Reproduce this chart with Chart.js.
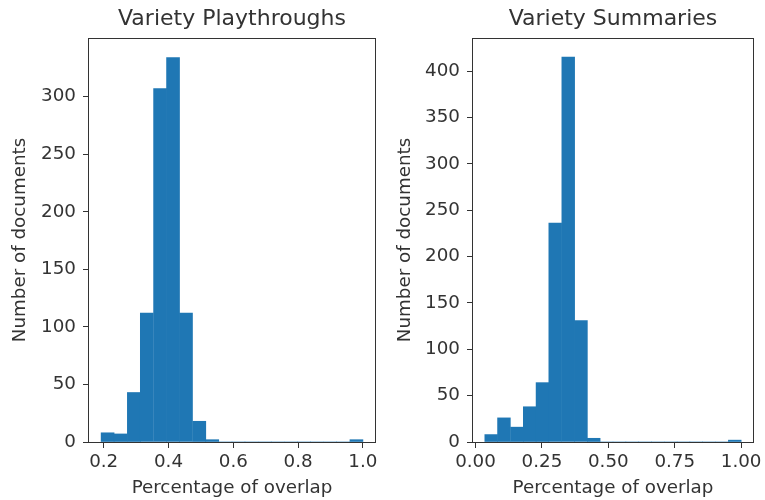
<!DOCTYPE html>
<html>
<head>
<meta charset="utf-8">
<script src="https://cdn.jsdelivr.net/npm/chart.js@4.4.1/dist/chart.umd.min.js"></script>
<style>
  html, body { margin: 0; padding: 0; background: #fff; }
  #wrap { position: relative; width: 765px; height: 500px; }
  canvas { position: absolute; top: 0; }
</style>
</head>
<body>
<div id="wrap">
  <canvas id="left" width="385" height="500" style="left:0"></canvas>
  <canvas id="right" width="380" height="500" style="left:385px"></canvas>
</div>
<script>
// ---- data ----
// Variety Playthroughs: 20 bins between 0.192 and 1.0
const playBinCenters = [0.212, 0.252, 0.293, 0.333, 0.374, 0.414, 0.454, 0.495, 0.535, 0.576,
                        0.616, 0.656, 0.697, 0.737, 0.778, 0.818, 0.858, 0.899, 0.939, 0.980];
const playCounts     = [8, 7, 43, 112, 307, 334, 112, 18, 2, 0,
                        0, 0, 0, 0, 0, 0, 0, 0, 0, 2];
const playXTicks  = [0.2, 0.4, 0.6, 0.8, 1.0];
const playXLabels = ['0.2', '0.4', '0.6', '0.8', '1.0'];
const playYTicks  = [0, 50, 100, 150, 200, 250, 300];

// Variety Summaries: 20 bins between 0.035 and 1.0
const sumBinCenters = [0.059, 0.107, 0.156, 0.204, 0.252, 0.300, 0.349, 0.397, 0.445, 0.493,
                       0.542, 0.590, 0.638, 0.686, 0.735, 0.783, 0.831, 0.879, 0.928, 0.976];
const sumCounts     = [8, 26, 16, 38, 64, 236, 415, 131, 4, 0,
                       0, 0, 0, 0, 0, 0, 0, 0, 0, 2];
const sumXTicks  = [0, 0.25, 0.5, 0.75, 1.0];
const sumXLabels = ['0.00', '0.25', '0.50', '0.75', '1.00'];
const sumYTicks  = [0, 50, 100, 150, 200, 250, 300, 350, 400];

const INK = '#333333';
const BAR = '#1f77b4';
Chart.defaults.font.family = '"DejaVu Sans", sans-serif';
Chart.defaults.color = INK;

// full box around the plot area (matplotlib spines)
const frame = {
    id: 'frame',
    afterDraw(chart) {
        const { ctx, chartArea: a } = chart;
        ctx.save();
        ctx.strokeStyle = INK;
        ctx.lineWidth = 1;
        ctx.strokeRect(Math.round(a.left) + 0.5, Math.round(a.top) + 0.5,
                       Math.round(a.right - a.left) - 1, Math.round(a.bottom - a.top));
        ctx.restore();
    }
};

function histogram(id, o) {
    const fixTicks = list => scale => { scale.ticks = list.map(v => ({ value: v })); };
    return new Chart(document.getElementById(id), {
        type: 'bar',
        data: {
            datasets: [{
                data: o.centers.map((x, i) => ({ x, y: o.counts[i] })),
                backgroundColor: BAR,
                borderWidth: 0,
                barPercentage: 1,
                categoryPercentage: 1,
                grouped: false
            }]
        },
        options: {
            responsive: false,
            animation: false,
            devicePixelRatio: 1,
            layout: { padding: { top: 0, right: o.padRight, bottom: 0, left: 0 } },
            plugins: {
                legend: { display: false },
                tooltip: { enabled: false },
                title: {
                    display: true, text: o.title, fullSize: false,
                    color: INK, font: { size: 22, weight: 'normal' },
                    padding: { top: 6, bottom: 5.6 }
                }
            },
            scales: {
                x: {
                    type: 'linear', min: o.xMin, max: o.xMax, offset: false,
                    afterBuildTicks: fixTicks(o.xTicks),
                    afterFit: s => { s.height = 58; },
                    grid: { display: true, offset: false, drawOnChartArea: false, tickLength: 6, tickColor: INK },
                    border: { display: false },
                    ticks: {
                        padding: 3, maxRotation: 0, autoSkip: false,
                        font: { size: 18.3 },
                        callback: (v) => o.xLabels[o.xTicks.indexOf(v)] ?? ''
                    },
                    title: {
                        display: true, text: 'Percentage of overlap',
                        font: { size: 18.3 }, padding: { top: 0, bottom: 1 }
                    }
                },
                y: {
                    min: 0, max: o.yMax,
                    afterBuildTicks: fixTicks(o.yTicks),
                    afterFit: s => { s.width = o.yWidth; },
                    grid: { display: true, drawOnChartArea: false, tickLength: 5, tickColor: INK },
                    border: { display: false },
                    ticks: { padding: 7, autoSkip: false, font: { size: 18.3 } },
                    title: {
                        display: true, text: 'Number of documents',
                        font: { size: 18.3 }, padding: { top: 9, bottom: 0 }
                    }
                }
            }
        },
        plugins: [frame]
    });
}

histogram('left', {
    title: 'Variety Playthroughs',
    centers: playBinCenters, counts: playCounts,
    xMin: 0.1515, xMax: 1.0404, xTicks: playXTicks, xLabels: playXLabels,
    yMax: 351, yTicks: playYTicks, yWidth: 88, padRight: 9
});

histogram('right', {
    title: 'Variety Summaries',
    centers: sumBinCenters, counts: sumCounts,
    xMin: -0.0133, xMax: 1.0483, xTicks: sumXTicks, xLabels: sumXLabels,
    yMax: 435.6, yTicks: sumYTicks, yWidth: 87, padRight: 5
});
</script>
</body>
</html>
